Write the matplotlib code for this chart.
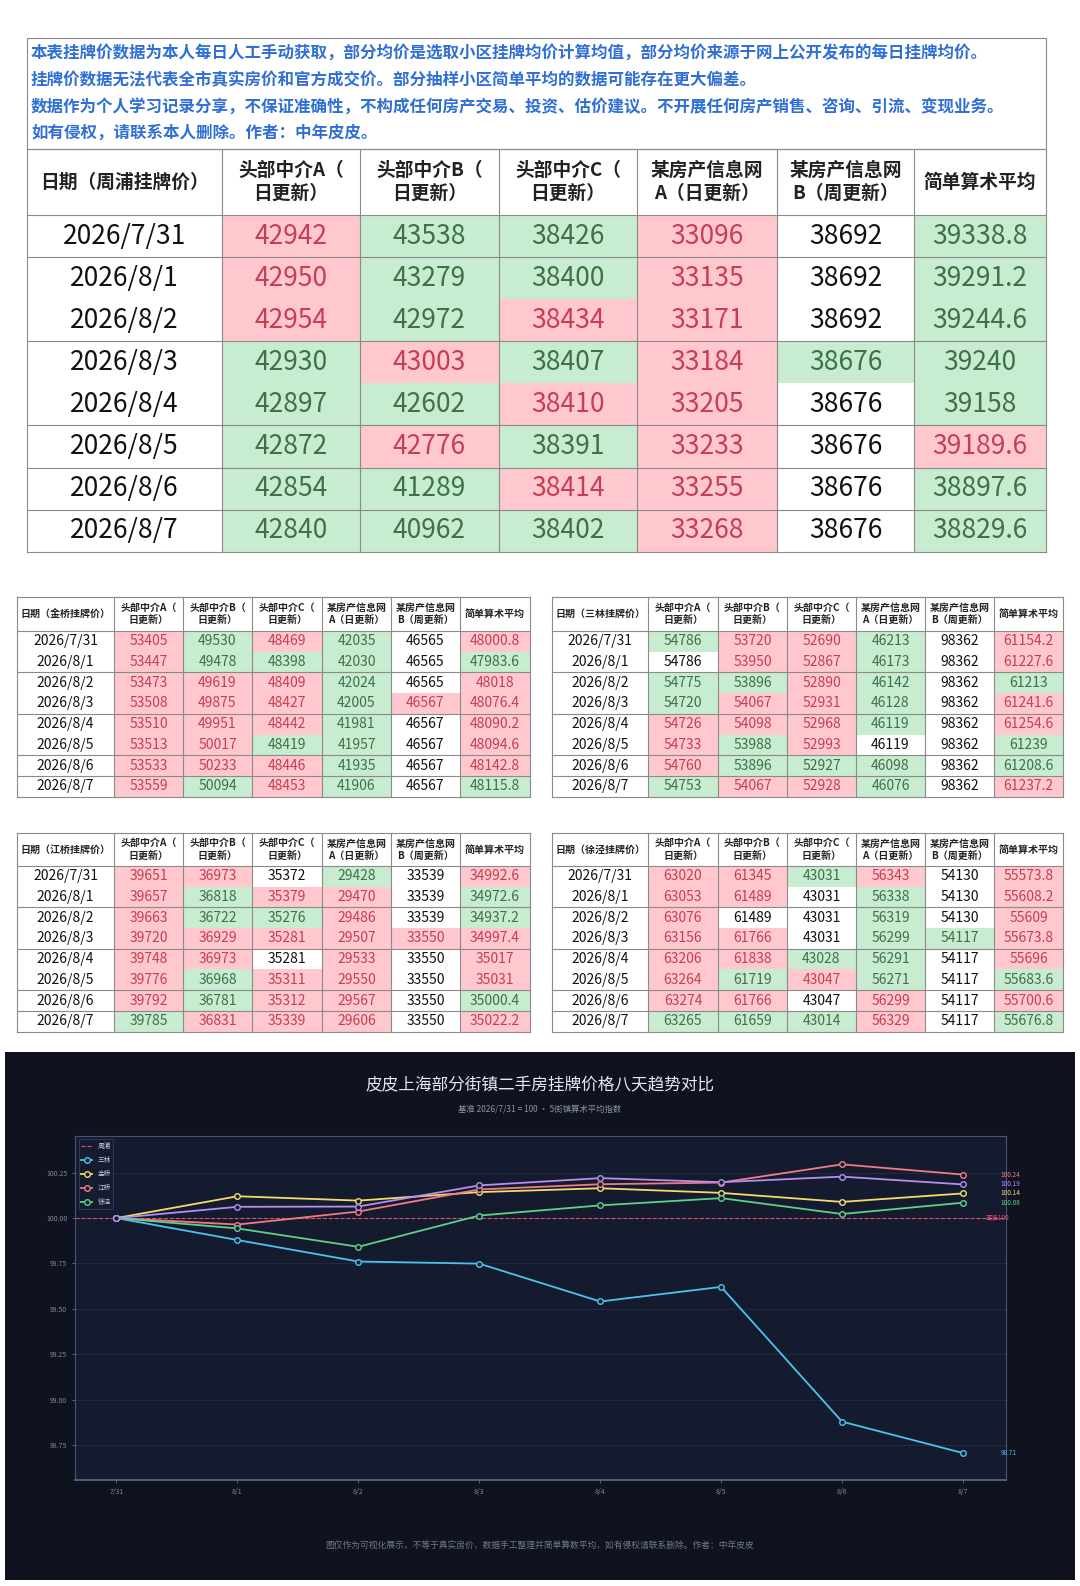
import numpy as np
import matplotlib
matplotlib.use('Agg')
import matplotlib.pyplot as plt
from matplotlib.patches import Rectangle

plt.rcParams['font.family'] = ['Noto Sans CJK SC', 'DejaVu Sans']

# ---- data ----
dates = ['2026/7/31', '2026/8/1', '2026/8/2', '2026/8/3',
         '2026/8/4', '2026/8/5', '2026/8/6', '2026/8/7']

col_heads = ['头部中介A（\n日更新）', '头部中介B（\n日更新）', '头部中介C（\n日更新）',
             '某房产信息网\nA（日更新）', '某房产信息网\nB（周更新）', '简单算术平均']

notes = [
    '本表挂牌价数据为本人每日人工手动获取，部分均价是选取小区挂牌均价计算均值，部分均价来源于网上公开发布的每日挂牌均价。',
    '挂牌价数据无法代表全市真实房价和官方成交价。部分抽样小区简单平均的数据可能存在更大偏差。',
    '数据作为个人学习记录分享，不保证准确性，不构成任何房产交易、投资、估价建议。不开展任何房产销售、咨询、引流、变现业务。',
    '如有侵权，请联系本人删除。作者：中年皮皮。',
]

# 周浦
zp_a = [42942, 42950, 42954, 42930, 42897, 42872, 42854, 42840]
zp_b = [43538, 43279, 42972, 43003, 42602, 42776, 41289, 40962]
zp_c = [38426, 38400, 38434, 38407, 38410, 38391, 38414, 38402]
zp_na = [33096, 33135, 33171, 33184, 33205, 33233, 33255, 33268]
zp_nb = [38692, 38692, 38692, 38676, 38676, 38676, 38676, 38676]
zp_avg = ['39338.8', '39291.2', '39244.6', '39240', '39158', '39189.6', '38897.6', '38829.6']
zp_flag = ['rggrwg', 'rggrwg', 'rgrrwg', 'grgrgg', 'ggrrwg', 'grgrwr', 'ggrrwg', 'gggrwg']

# 金桥
jq_a = [53405, 53447, 53473, 53508, 53510, 53513, 53533, 53559]
jq_b = [49530, 49478, 49619, 49875, 49951, 50017, 50233, 50094]
jq_c = [48469, 48398, 48409, 48427, 48442, 48419, 48446, 48453]
jq_na = [42035, 42030, 42024, 42005, 41981, 41957, 41935, 41906]
jq_nb = [46565, 46565, 46565, 46567, 46567, 46567, 46567, 46567]
jq_avg = ['48000.8', '47983.6', '48018', '48076.4', '48090.2', '48094.6', '48142.8', '48115.8']
jq_flag = ['rgrgwr', 'rgggwg', 'rrrgwr', 'rrrgrr', 'rrrgwr', 'rrggwr', 'rrrgwr', 'rgrgwg']

# 三林
sl_a = [54786, 54786, 54775, 54720, 54726, 54733, 54760, 54753]
sl_b = [53720, 53950, 53896, 54067, 54098, 53988, 53896, 54067]
sl_c = [52690, 52867, 52890, 52931, 52968, 52993, 52927, 52928]
sl_na = [46213, 46173, 46142, 46128, 46119, 46119, 46098, 46076]
sl_nb = [98362, 98362, 98362, 98362, 98362, 98362, 98362, 98362]
sl_avg = ['61154.2', '61227.6', '61213', '61241.6', '61254.6', '61239', '61208.6', '61237.2']
sl_flag = ['grrgwr', 'wrrgwr', 'ggrgwg', 'grrgwr', 'rrrgwr', 'rgrwwg', 'rgggwg', 'grrgwr']

# 江桥
jg_a = [39651, 39657, 39663, 39720, 39748, 39776, 39792, 39785]
jg_b = [36973, 36818, 36722, 36929, 36973, 36968, 36781, 36831]
jg_c = [35372, 35379, 35276, 35281, 35281, 35311, 35312, 35339]
jg_na = [29428, 29470, 29486, 29507, 29533, 29550, 29567, 29606]
jg_nb = [33539, 33539, 33539, 33550, 33550, 33550, 33550, 33550]
jg_avg = ['34992.6', '34972.6', '34937.2', '34997.4', '35017', '35031', '35000.4', '35022.2']
jg_flag = ['rrwgwr', 'rgrrwg', 'rggrwg', 'rrrrrr', 'rrwrwr', 'rgrrwr', 'rgrrwg', 'grrrwr']

# 徐泾
xj_a = [63020, 63053, 63076, 63156, 63206, 63264, 63274, 63265]
xj_b = [61345, 61489, 61489, 61766, 61838, 61719, 61766, 61659]
xj_c = [43031, 43031, 43031, 43031, 43028, 43047, 43047, 43014]
xj_na = [56343, 56338, 56319, 56299, 56291, 56271, 56299, 56329]
xj_nb = [54130, 54130, 54130, 54117, 54117, 54117, 54117, 54117]
xj_avg = ['55573.8', '55608.2', '55609', '55673.8', '55696', '55683.6', '55700.6', '55676.8']
xj_flag = ['rrgrwr', 'rrwgwr', 'rwwgwr', 'rrwggr', 'rrggwr', 'rgrgwg', 'rrwrwr', 'gggrwg']

# ---- figure ----
W, H = 1080, 1586
fig = plt.figure(figsize=(W / 100, H / 100), dpi=100)
fig.patch.set_facecolor('white')

bg = fig.add_axes([0, 0, 1, 1])
bg.set_xlim(0, W)
bg.set_ylim(H, 0)
bg.axis('off')

FILL = {'r': '#ffc8ce', 'g': '#c7eccf', 'w': 'white'}
TXT = {'r': '#c83d52', 'g': '#3f7048', 'w': '#111111'}
LINE = '#8a8a8a'


def draw_table(x0, y0, widths, head_h, row_h, title, cols, flags, lines_after,
               head_fs, num_fs):
    tw = sum(widths)
    th = head_h + row_h * len(dates)
    ax = fig.add_axes([x0 / W, 1 - (y0 + th) / H, tw / W, th / H])
    ax.set_xlim(0, tw)
    ax.set_ylim(th, 0)
    ax.axis('off')
    edges = np.concatenate([[0], np.cumsum(widths)])
    heads = [title] + col_heads
    for j, h in enumerate(heads):
        ax.text((edges[j] + edges[j + 1]) / 2, head_h / 2, h, ha='center', va='center',
                fontsize=head_fs, fontweight='bold', color='#222222', linespacing=1.25)
    for i, d in enumerate(dates):
        yc = head_h + row_h * (i + 0.5)
        ax.text(edges[1] / 2, yc, d, ha='center', va='center', fontsize=num_fs, color='#111111')
        for j, col in enumerate(cols):
            f = flags[i][j]
            ax.add_patch(Rectangle((edges[j + 1], head_h + row_h * i), widths[j + 1], row_h,
                                   facecolor=FILL[f], edgecolor='none'))
            ax.text((edges[j + 1] + edges[j + 2]) / 2, yc, str(col[i]), ha='center', va='center',
                    fontsize=num_fs, color=TXT[f])
    for k in [0] + [head_h + row_h * (r + 1) for r in lines_after] + [head_h, th]:
        ax.plot([0, tw], [k, k], color=LINE, lw=0.8, clip_on=False)
    for e in edges:
        ax.plot([e, e], [0, th], color=LINE, lw=0.8, clip_on=False)


# notes + main table
bg.add_patch(Rectangle((27, 38), 1019, 111, facecolor='white', edgecolor=LINE, lw=0.8))
for k, line in enumerate(notes):
    bg.text(31, 53 + k * 26.7, line, fontsize=11.9, fontweight='bold', color='#2f6fd6',
            va='center', ha='left')

draw_table(27, 149, [195, 138, 139, 138, 140, 137, 132], 66, 42.1, '日期（周浦挂牌价）',
           [zp_a, zp_b, zp_c, zp_na, zp_nb, zp_avg], zp_flag, [0, 2, 4, 5, 6], 13.5, 19)

small_w_l = [97, 69, 69, 70, 69, 69, 70]
small_w_r = [96, 70, 69, 69, 69, 69, 69]
small_lines = [1, 3, 5, 6]
draw_table(17, 597, small_w_l, 34, 20.7, '日期（金桥挂牌价）',
           [jq_a, jq_b, jq_c, jq_na, jq_nb, jq_avg], jq_flag, small_lines, 7.2, 10)
draw_table(552, 597, small_w_r, 34, 20.7, '日期（三林挂牌价）',
           [sl_a, sl_b, sl_c, sl_na, sl_nb, sl_avg], sl_flag, small_lines, 7.2, 10)
draw_table(17, 833, small_w_l, 33, 20.7, '日期（江桥挂牌价）',
           [jg_a, jg_b, jg_c, jg_na, jg_nb, jg_avg], jg_flag, small_lines, 7.2, 10)
draw_table(552, 833, small_w_r, 33, 20.7, '日期（徐泾挂牌价）',
           [xj_a, xj_b, xj_c, xj_na, xj_nb, xj_avg], xj_flag, small_lines, 7.2, 10)

# ---- trend chart ----
bg.add_patch(Rectangle((5, 1052), 1070, 528, facecolor='#0f1320', edgecolor='none'))
fig.text(540 / W, 1 - 1085 / H, '皮皮上海部分街镇二手房挂牌价格八天趋势对比',
         ha='center', va='center', fontsize=12, color='#e4e9f2')
fig.text(540 / W, 1 - 1109 / H, '基准 2026/7/31 = 100 · 5街镇算术平均指数',
         ha='center', va='center', fontsize=6, color='#8a93a6')
fig.text(540 / W, 1 - 1546 / H,
         '图仅作为可视化展示，不等于真实房价，数据手工整理并简单算数平均，如有侵权请联系删除。作者：中年皮皮',
         ha='center', va='center', fontsize=6.3, color='#6f788c')

px0, px1, py0, py1 = 75, 1006, 1136, 1480
ax = fig.add_axes([px0 / W, 1 - py1 / H, (px1 - px0) / W, (py1 - py0) / H])
ax.set_facecolor('#151b2f')

x = np.arange(len(dates))
# colour / legend label as they appear in the picture
series = [
    (zp_avg, '#4cc3ec', '三林'),
    (sl_avg, '#f3dc6b', '金桥'),
    (jq_avg, '#f07b86', '江桥'),
    (jg_avg, '#5fd08a', '徐泾'),
    (xj_avg, '#b48ef0', '_nolegend_'),
]
ax.axhline(100, color='#e0506a', ls='--', lw=0.8, label='周浦', zorder=2)
for avg, c, lab in series:
    v = np.array([float(s) for s in avg])
    idx = v / v[0] * 100
    ax.plot(x, idx, color=c, lw=1.3, marker='o', ms=4, mfc='#151b2f', mec=c, mew=1.0,
            label=lab, zorder=3)
    ax.text(7.31, idx[-1], f'{idx[-1]:.2f}', color=c, fontsize=4.6, va='center', ha='left')
ax.text(7.19, 100.0, '基准100', color='#e0506a', fontsize=4.6, va='center', ha='left')

ax.set_xlim(-0.343, 7.356)
ax.set_ylim(98.557, 100.452)
ax.set_yticks([98.75, 99.0, 99.25, 99.5, 99.75, 100.0, 100.25])
ax.set_yticklabels([f'{t:.2f}' for t in ax.get_yticks()])
ax.set_xticks(x)
ax.set_xticklabels([d[5:] for d in dates])
ax.tick_params(colors='#7d879c', labelsize=5, length=2, width=0.5)
ax.grid(axis='y', color='#242c44', lw=0.6)
for s in ax.spines.values():
    s.set_color('#4a5470')
    s.set_linewidth(0.8)
ax.spines['bottom'].set_color('#5c6a8e')
ax.spines['bottom'].set_linewidth(1.2)

leg = ax.legend(loc='upper left', bbox_to_anchor=(0.004, 0.99), borderaxespad=0,
                fontsize=4.8, facecolor='#151c30', edgecolor='#34405c', labelcolor='#c3cad8',
                handlelength=1.6, labelspacing=0.9, framealpha=1)
leg.get_frame().set_linewidth(0.6)

fig.savefig('out.png', dpi=100, facecolor='white')
